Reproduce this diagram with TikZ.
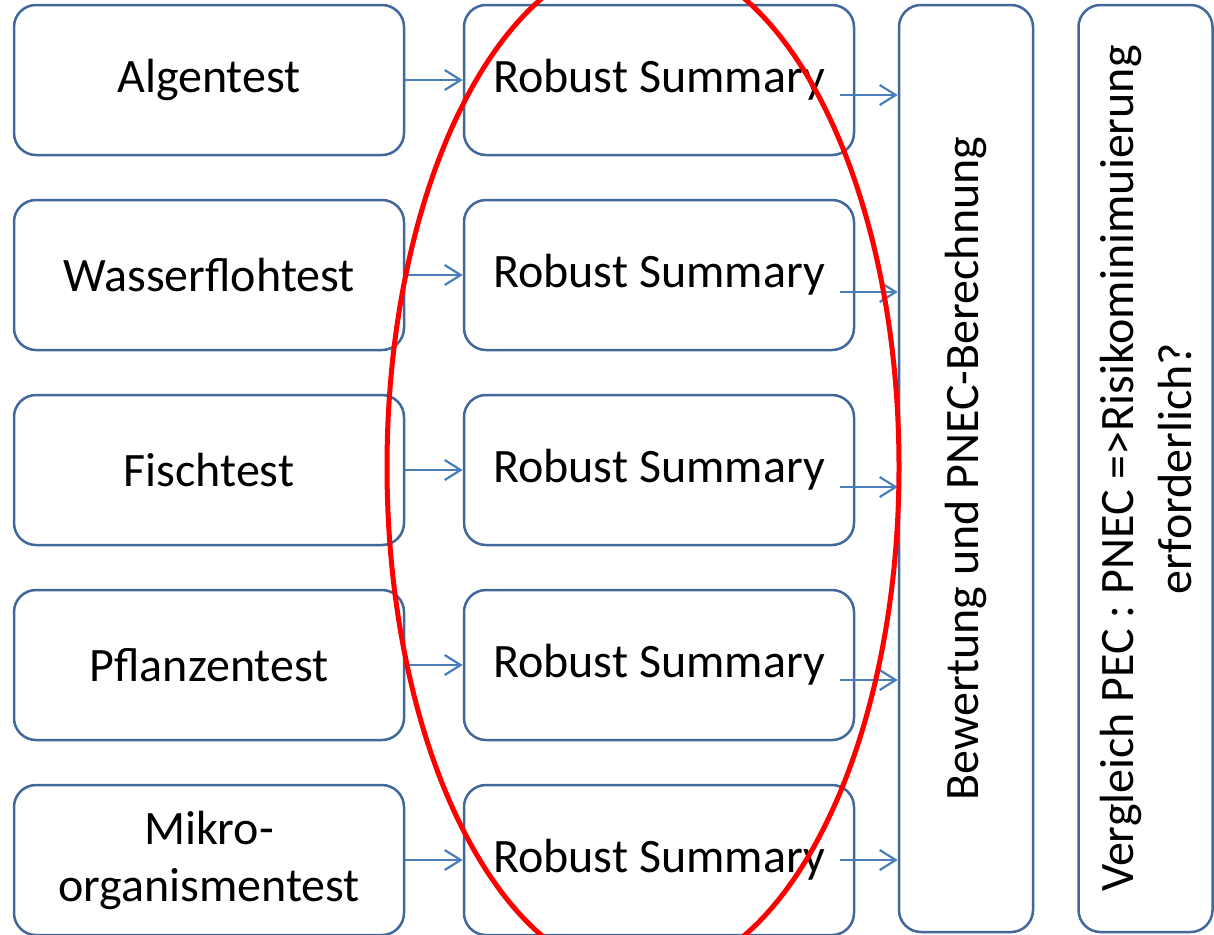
\documentclass[tikz,border=0pt]{standalone}
\usepackage{fontspec}
\setmainfont{Carlito}
\usetikzlibrary{positioning, calc, arrows.meta}
\definecolor{boxblue}{RGB}{65,104,155}
\definecolor{arrblue}{RGB}{74,126,187}

\begin{document}
\begin{tikzpicture}[x=0.5pt,y=-0.5pt,
  block/.style={rectangle,rounded corners=11pt,draw=boxblue,line width=1.25pt,minimum width=195pt,minimum height=75pt,align=center,font=\fontsize{24}{28.5}\selectfont},
  tall/.style={rectangle,rounded corners=11pt,draw=boxblue,line width=1.25pt,minimum width=67pt,minimum height=463.5pt},
  vtext/.style={rotate=90,align=center,font=\fontsize{24}{29}\selectfont},
  link/.style={-{Straight Barb[length=8pt,width=10pt]},arrblue,line width=1.1pt},
  node distance=21.25pt and 28.75pt]
\useasboundingbox (0,0) rectangle (1214,934);
% tests
\node (t1) [block] at (209,80) {Algentest};
\node (t2) [block,below=of t1] {Wasserflohtest};
\node (t3) [block,below=of t2] {Fischtest};
\node (t4) [block,below=of t3] {Pflanzentest};
\node (t5) [block,below=of t4] {Mikro-\\organismentest};
% summaries
\foreach \i in {1,...,5}
  \node (rs\i) [block,right=of t\i] {Robust Summary};
% assessment
\node (bew) [tall] at (966,468.5) {};
\node [vtext] at (bew.center) {Bewertung und PNEC-Berechnung};
\node (vgl) [tall] at (1145.5,468.5) {};
\node [vtext] at (vgl.center) {Vergleich PEC : PNEC =>Risikominimuierung\\erforderlich?};
% connectors
\foreach \i/\dy in {1/15,2/17,3/17,4/15,5/0} {
  \draw [link] (t\i.east) -- (rs\i.west);
  \coordinate (s\i) at ($(rs\i.east)+(-15,\dy)$);
  \draw [link] (s\i) -- (s\i -| bew.west);
}
\draw [red, line width=2.5pt] (643,467) ellipse [x radius=128pt, y radius=255pt];
\end{tikzpicture}
\end{document}
